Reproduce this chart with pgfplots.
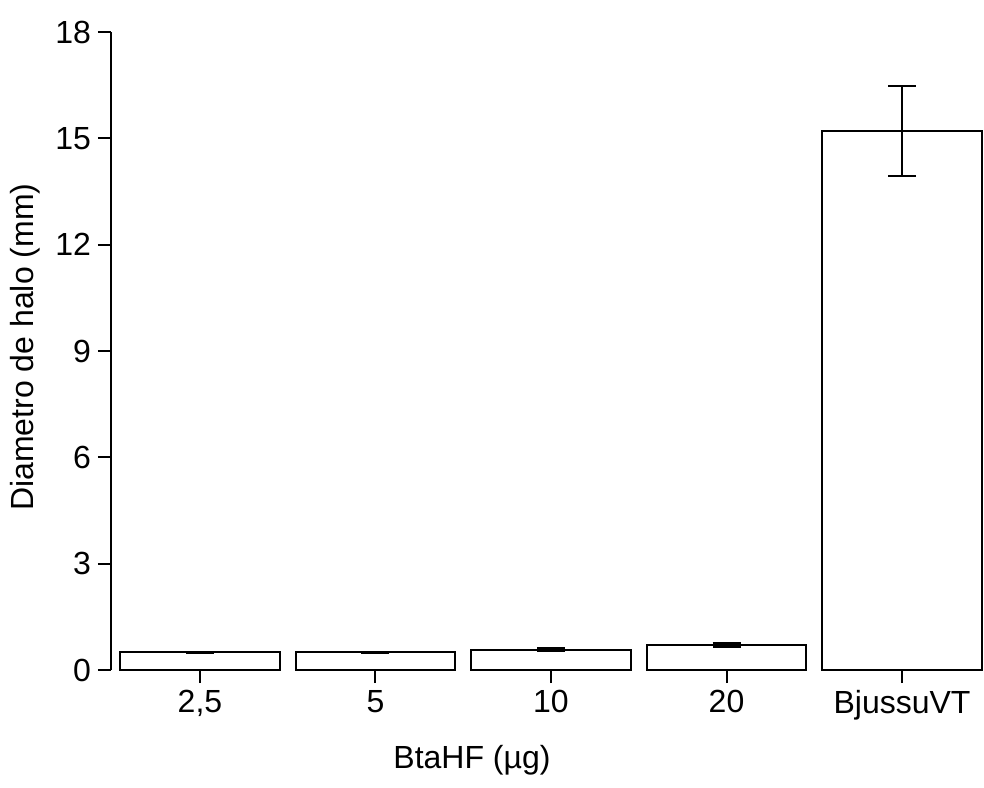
\documentclass[border=0pt]{standalone}
\usepackage{fontspec}
\setmainfont{Liberation Sans}
\usepackage{pgfplots}
\pgfplotsset{compat=1.18}

\begin{document}
\begin{tikzpicture}
\begin{axis}[
  scale only axis,
  width=436.5pt, height=319pt,
  xmin=-0.507, xmax=4.467,
  ymin=0, ymax=18,
  ytick={0,3,...,18},
  xtick={0,1,2,3,4},
  xticklabels={{2,5},5,10,20,BjussuVT},
  axis x line*=bottom,
  axis y line*=left,
  x axis line style={draw=none},
  axis line style={line width=1pt},
  tick align=outside,
  major tick length=6.5pt,
  every tick/.style={black, line width=1pt},
  tick label style={font=\fontsize{16}{19}\selectfont},
  label style={font=\fontsize{16}{19}\selectfont},
  /pgf/number format/assume math mode=true,
  xlabel={BtaHF (µg)},
  ylabel={Diametro de halo (mm)},
  xlabel style={at={(axis description cs:0.4135,-0.141)}, anchor=center},
  ylabel style={at={(axis description cs:-0.0985,0.506)}, anchor=center},
]
\addplot[ybar, bar width=0.91, fill=white, draw=black, line width=1pt,
  error bars/.cd, y dir=both, y explicit,
  error bar style={line width=1pt, black},
  error mark options={rotate=90, mark size=7pt, line width=1pt, black}]
  coordinates {
    (0,0.50) +- (0,0.02)
    (1,0.50) +- (0,0.02)
    (2,0.58) +- (0,0.04)
    (3,0.71) +- (0,0.06)
    (4,15.20) +- (0,1.27)
  };
\coordinate (bbsw) at (axis description cs:-0.1271,-0.1834);
\coordinate (bbne) at (axis description cs:1.0,1.0502);
\end{axis}
\pgfresetboundingbox
\useasboundingbox (bbsw) rectangle (bbne);
\end{tikzpicture}
\end{document}
